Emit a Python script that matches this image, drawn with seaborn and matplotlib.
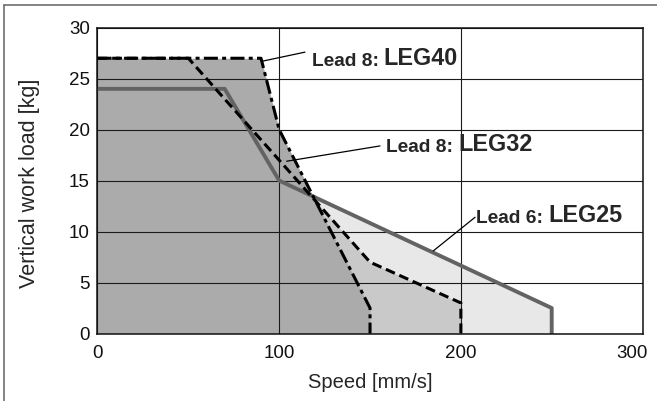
import matplotlib
matplotlib.use("Agg")
import matplotlib.pyplot as plt
from matplotlib.lines import Line2D
from matplotlib.transforms import ScaledTranslation
import pandas as pd
import seaborn as sns

# Vertical work load vs speed, three series
speed_leg40 = [0, 90, 100, 150, 150]
load_leg40 = [27, 27, 20, 2.5, 0]
speed_leg32 = [0, 50, 150, 200, 200]
load_leg32 = [27, 27, 7, 3, 0]
speed_leg25 = [0, 70, 100, 250, 250]
load_leg25 = [24, 24, 15, 2.5, 0]

x_ticks = [0, 100, 200, 300]
y_ticks = [0, 5, 10, 15, 20, 25, 30]

# label text, point on curve, leader end, text start (baseline)
notes = [
    ("Lead 8:", "LEG40", (90.4, 26.7), (114.2, 27.6), (117.8, 26.2)),
    ("Lead 8:", "LEG32", (104.1, 16.9), (155.5, 18.4), (159.0, 17.85)),
    ("Lead 6:", "LEG25", (184.8, 8.1), (207.8, 11.4), (208.5, 10.8)),
]

sns.set_style("white")
plt.rcParams["font.family"] = ["Liberation Sans", "DejaVu Sans"]

fig = plt.figure(figsize=(6.57, 4.01), dpi=100)
ax = fig.add_axes([0.1484, 0.1683, 0.8296, 0.7627])

df40 = pd.DataFrame({"speed": speed_leg40, "load": load_leg40})
df32 = pd.DataFrame({"speed": speed_leg32, "load": load_leg32})
df25 = pd.DataFrame({"speed": speed_leg25, "load": load_leg25})

# stacked fills: lightest first
ax.fill_between(df25.speed, df25.load, 0, color="#e7e8e7", lw=0, zorder=1)
ax.fill_between(df32.speed, df32.load, 0, color="#c8c9c8", lw=0, zorder=1.1)
ax.fill_between(df40.speed, df40.load, 0, color="#aaabaa", lw=0, zorder=1.2)

sns.lineplot(data=df25, x="speed", y="load", sort=False, estimator=None, ax=ax,
             color="#636363", lw=2.8, zorder=4)
sns.lineplot(data=df32, x="speed", y="load", sort=False, estimator=None, ax=ax,
             color="black", lw=2.2, linestyle=(0, (3.2, 1.6)), zorder=5)
sns.lineplot(data=df40, x="speed", y="load", sort=False, estimator=None, ax=ax,
             color="black", lw=2.2, linestyle=(0, (4.6, 1.4, 1.3, 1.4)), zorder=6)

ax.set_xlim(0, 300)
ax.set_ylim(0, 30)
ax.set_xticks(x_ticks)
ax.set_yticks(y_ticks)
ax.set_axisbelow(False)
ax.grid(True, color="#1a1a1a", lw=0.8, zorder=2)
for s in ax.spines.values():
    s.set_color("#111111")
    s.set_linewidth(1.1)
    s.set_zorder(7)
ax.tick_params(length=0, labelsize=13.5, colors="#111111")
ax.tick_params(axis="x", pad=8)
ax.tick_params(axis="y", pad=5.5)

# last x tick label sits a little to the left in the original
last = ax.get_xticklabels()[-1]
last.set_transform(last.get_transform() + ScaledTranslation(-0.11, 0, fig.dpi_scale_trans))

ax.set_xlabel("Speed [mm/s]", fontsize=14.5, va="center")
ax.set_ylabel("Vertical work load [kg]", fontsize=15.5, va="center")
ax.xaxis.set_label_coords(0.5, -0.159)
ax.yaxis.set_label_coords(-0.124, 0.49)

for lead, model, pt, end, pos in notes:
    ax.annotate("", xy=pt, xytext=end,
                arrowprops=dict(arrowstyle="-", lw=0.9, color="black",
                                shrinkA=0, shrinkB=0), zorder=8)
    t1 = ax.text(pos[0], pos[1], lead, fontsize=13.8, fontweight="bold",
                 va="baseline", ha="left", zorder=8)
    ax.annotate(model, xy=(1, 0), xycoords=t1, xytext=(3.5, 0),
                textcoords="offset points", fontsize=16.8, fontweight="bold",
                va="bottom", ha="left", zorder=8)

# outer frame (left and top edges visible)
fig.add_artist(Line2D([4 / 657, 4 / 657], [0, 1 - 5 / 401], transform=fig.transFigure,
                      color="#6e6e6e", lw=1.2))
fig.add_artist(Line2D([4 / 657, 1], [1 - 5 / 401, 1 - 5 / 401], transform=fig.transFigure,
                      color="#6e6e6e", lw=1.2))

fig.savefig("out.png", dpi=100)
